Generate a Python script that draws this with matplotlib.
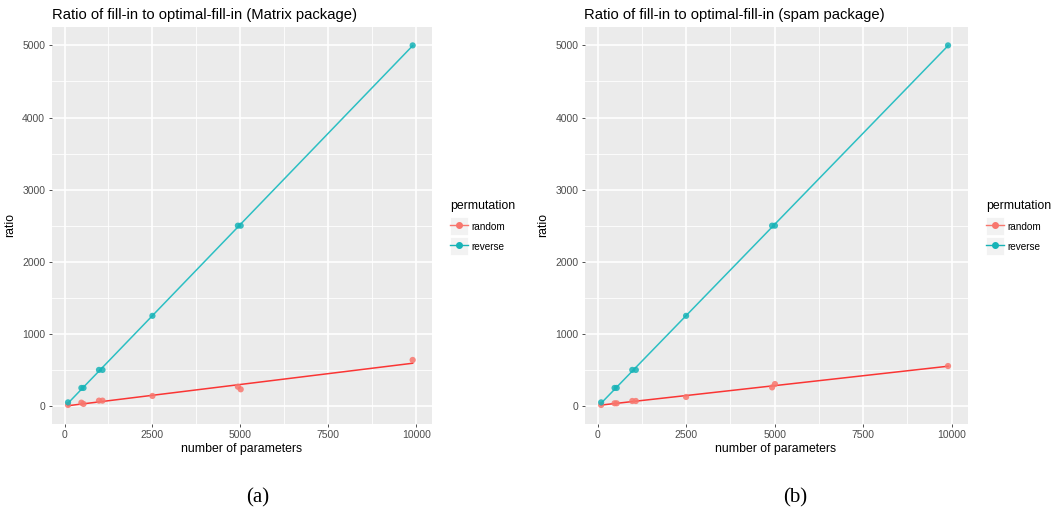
import numpy as np
import matplotlib
matplotlib.use("Agg")
import matplotlib.pyplot as plt
from matplotlib.lines import Line2D
from matplotlib.patches import Rectangle
from matplotlib.legend_handler import HandlerLine2D

# données
n_params = [100, 480, 540, 980, 1080, 2500, 4930, 5010, 9900]
reverse_ratio = [50, 250, 250, 500, 500, 1250, 2500, 2500, 5000]
random_matrix = [14, 46, 28, 74, 74, 139, 268, 231, 638]
random_spam = [14, 37, 37, 69, 69, 125, 258, 304, 554]

titles = ["Ratio of fill-in to optimal-fill-in (Matrix package)",
          "Ratio of fill-in to optimal-fill-in (spam package)"]
captions = ["(a)", "(b)"]
x_ticks = [0, 2500, 5000, 7500, 10000]
y_ticks = [0, 1000, 2000, 3000, 4000, 5000]

RED_PT, RED_LN = "#F8766D", "#FA3534"
TEAL_PT, TEAL_LN = "#17B3B7", "#2CBFC3"

plt.rcParams['font.family'] = ['Liberation Sans', 'DejaVu Sans']


class KeyHandler(HandlerLine2D):
    # clé de légende façon ggplot : carré gris derrière le trait
    def create_artists(self, legend, orig, xdescent, ydescent, width, height, fontsize, trans):
        arts = super().create_artists(legend, orig, xdescent, ydescent, width, height, fontsize, trans)
        cy = -ydescent + height / 2
        bg = Rectangle((-xdescent, cy - width / 2), width, width,
                       facecolor="#F2F2F2", edgecolor="white", linewidth=0.6, transform=trans)
        return [bg] + arts


fig = plt.figure(figsize=(10.57, 5.17), dpi=100)
W, H = 1057, 517
panels = [(51.5, 27, 380.5, 397), (584.5, 27, 383, 397)]
legend_pos = [(450, 200), (986, 200)]
caption_x = [258, 795]

for i, random_ratio in enumerate([random_matrix, random_spam]):
    l, t, w, h = panels[i]
    ax = fig.add_axes([l / W, 1 - (t + h) / H, w / W, h / H])
    ax.set_facecolor("#EBEBEB")
    for s in ax.spines.values():
        s.set_visible(False)

    x = np.array(n_params)
    # droites de régression (geom_smooth lm)
    for y, c_ln, c_pt in [(random_ratio, RED_LN, RED_PT), (reverse_ratio, TEAL_LN, TEAL_PT)]:
        a, b = np.polyfit(x, y, 1)
        ax.plot([x.min(), x.max()], [a * x.min() + b, a * x.max() + b], color=c_ln, lw=1.1, zorder=3)
        ax.scatter(x, y, s=20, color=c_pt, alpha=0.85, edgecolors="none", zorder=4)

    ax.set_xlim(-370, 10450)
    ax.set_ylim(-250, 5255)
    ax.set_xticks(x_ticks)
    ax.set_yticks(y_ticks)
    ax.set_xticks([1250, 3750, 6250, 8750], minor=True)
    ax.set_yticks([500, 1500, 2500, 3500, 4500], minor=True)
    ax.grid(True, which="major", color="white", lw=1.2)
    ax.grid(True, which="minor", color="white", lw=0.6)
    ax.set_axisbelow(True)
    ax.tick_params(which="major", length=2.5, width=0.6, color="#333333", labelcolor="#4D4D4D",
                   labelsize=7.5, pad=2)
    ax.tick_params(which="minor", length=0)

    ax.set_title(titles[i], loc="left", fontsize=10.6, pad=6, color="black")
    ax.set_xlabel("number of parameters", fontsize=8.8, labelpad=2)
    ax.set_ylabel("ratio", fontsize=8.8, labelpad=4)

    handles = [Line2D([], [], color=RED_PT, marker="o", markersize=4, lw=1.0),
               Line2D([], [], color=TEAL_PT, marker="o", markersize=4, lw=1.0)]
    lx, ly = legend_pos[i]
    leg = fig.legend(handles, ["random", "reverse"], title="permutation",
                     loc="upper left", bbox_to_anchor=(lx / W, 1 - ly / H),
                     frameon=False, fontsize=7.2, title_fontsize=8.8, alignment="left",
                     handlelength=1.8, handleheight=1.4, handletextpad=0.35,
                     labelspacing=0.85, borderpad=0, borderaxespad=0,
                     handler_map={Line2D: KeyHandler()})

    fig.text(caption_x[i] / W, 1 - 498 / H, captions[i], ha="center", va="center",
             fontsize=15, family="Liberation Serif")

fig.savefig("out.png", dpi=100)
